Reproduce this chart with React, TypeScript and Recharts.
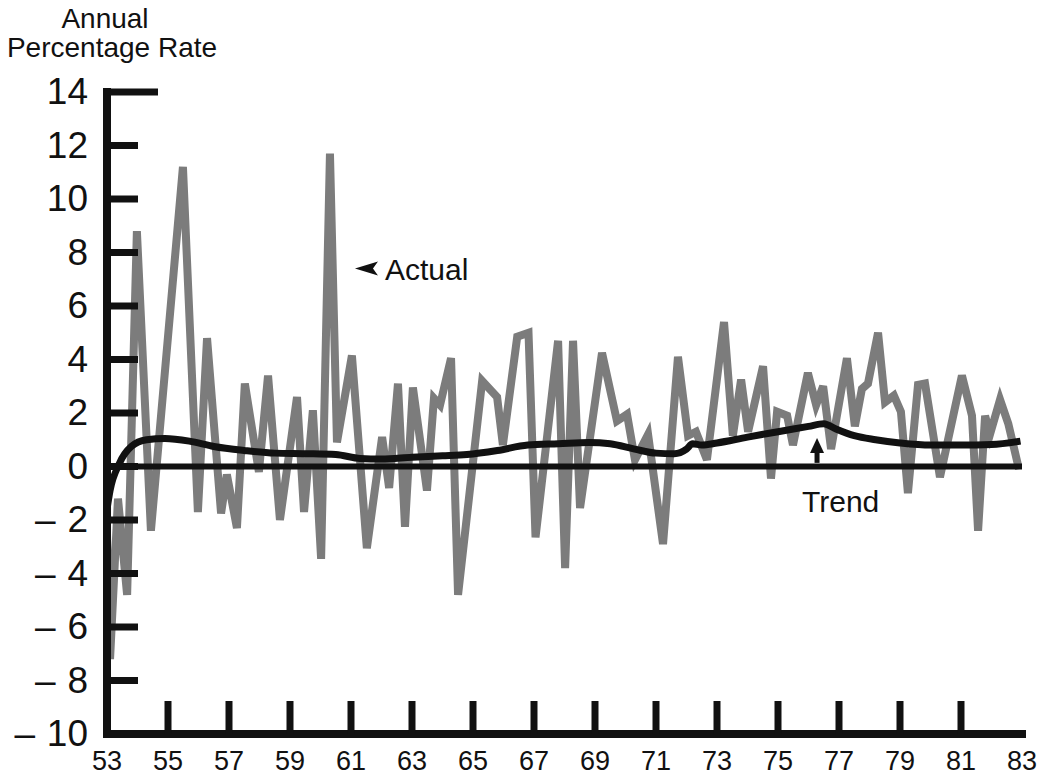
import React from "react";
import { LineChart, Line, XAxis, YAxis, ReferenceLine, ReferenceDot, Customized } from "recharts";

const actualYears = [
  53.0, 53.1, 53.36, 53.66, 53.98, 54.44, 55.49, 55.98, 56.28, 56.74, 56.93, 57.26, 57.52, 57.98,
  58.28, 58.67, 59.23, 59.46, 59.75, 60.02, 60.31, 60.54, 61.03, 61.52, 62.02, 62.25, 62.54, 62.77,
  63.03, 63.49, 63.72, 63.92, 64.28, 64.51, 65.3, 65.79, 65.98, 66.45, 66.82, 67.05, 67.79, 68.02,
  68.28, 68.51, 69.23, 69.72, 70.05, 70.31, 70.74, 71.23, 71.72, 72.05, 72.31, 72.67, 73.23, 73.52,
  73.79, 74.02, 74.51, 74.77, 74.97, 75.3, 75.49, 75.98, 76.25, 76.48, 76.74, 77.26, 77.52, 77.75,
  77.95, 78.28, 78.51, 78.8, 79.03, 79.26, 79.59, 79.82, 80.31, 81.03, 81.36, 81.56, 81.79, 81.95,
  82.28, 82.55, 82.9,
];
const actualValues = [
  -2.5, -7.2, -1.2, -4.8, 8.8, -2.4, 11.2, -1.7, 4.8, -1.75, -0.3, -2.3, 3.1, -0.2,
  3.4, -2.0, 2.6, -1.7, 2.1, -3.45, 11.7, 0.9, 4.15, -3.05, 1.1, -0.8, 3.1, -2.25,
  2.95, -0.9, 2.55, 2.3, 4.05, -4.8, 3.2, 2.6, 0.8, 4.85, 5.0, -2.65, 4.7, -3.8,
  4.7, -1.55, 4.25, 1.7, 1.95, 0.25, 1.2, -2.9, 4.1, 1.15, 1.3, 0.25, 5.4, 1.15,
  3.25, 1.3, 3.75, -0.45, 2.05, 1.9, 0.8, 3.5, 2.3, 3.0, 0.65, 4.05, 1.5, 2.9,
  3.1, 5.0, 2.4, 2.65, 2.05, -1.0, 3.05, 3.1, -0.4, 3.4, 1.9, -2.4, 1.9, 1.2,
  2.5, 1.6, -0.1,
];

// Trend
const trendYears = [
  53.0, 53.1, 53.4, 53.8, 54.3, 54.9, 55.7, 56.5, 57.5, 58.5, 59.5, 60.5, 61.3, 62.0,
  63.0, 64.0, 64.8, 65.8, 66.8, 67.8, 68.8, 69.5, 70.3, 71.0, 71.6, 72.0, 72.2, 72.5,
  73.0, 74.0, 75.0, 76.0, 76.5, 76.9, 77.5, 78.2, 79.0, 80.0, 81.0, 82.0, 82.95,
];
const trendValues = [
  -1.6, -0.9, 0.1, 0.75, 1.0, 1.05, 0.95, 0.75, 0.6, 0.5, 0.48, 0.45, 0.3, 0.28,
  0.35, 0.4, 0.45, 0.6, 0.8, 0.85, 0.9, 0.85, 0.65, 0.5, 0.48, 0.65, 0.85, 0.8,
  0.88, 1.1, 1.3, 1.5, 1.6, 1.4, 1.15, 1.0, 0.88, 0.8, 0.8, 0.82, 0.95,
];

const xTicks = [53, 55, 57, 59, 61, 63, 65, 67, 69, 71, 73, 75, 77, 79, 81, 83];
const yTicks = [-10, -8, -6, -4, -2, 0, 2, 4, 6, 8, 10, 12, 14];
const titleLines = ["Annual", "Percentage Rate"];

const actualData = actualYears.map((t, i) => ({ t, v: actualValues[i] }));
const trendData = trendYears.map((t, i) => ({ t, v: trendValues[i] }));

const FONT = "'Liberation Sans', Arial, Helvetica, sans-serif";
const INK = "#111";

const YTick = (props: any) => {
  const { x, y, payload } = props;
  const val = payload.value as number;
  const isTop = val === 14;
  const isBottom = val === -10;
  const abs = Math.abs(val);
  const digitsW = abs >= 10 ? 41 : 20.5;
  const labelRight = x - 19;
  return (
    <g>
      {!isBottom && (
        <line x1={x} x2={x + (isTop ? 51 : 31)} y1={y} y2={y} stroke={INK} strokeWidth={7} />
      )}
      <text x={labelRight} y={y + 12} textAnchor="end" fontSize={37} fontFamily={FONT} fill={INK}>
        {abs}
      </text>
      {val < 0 && (
        <text x={labelRight - digitsW - 12} y={y + 12} textAnchor="end" fontSize={37} fontFamily={FONT} fill={INK}>
          {"\u2013"}
        </text>
      )}
    </g>
  );
};

const XTick = (props: any) => {
  const { x, y, payload } = props;
  const val = payload.value as number;
  const inner = val > 53 && val < 83;
  return (
    <g>
      {inner && <line x1={x} x2={x} y1={y} y2={y - 33} stroke={INK} strokeWidth={7} />}
      <text x={x} y={y + 36} textAnchor="middle" fontSize={27} fontFamily={FONT} fill={INK}>
        {val}
      </text>
    </g>
  );
};

const ActualMarker = (props: any) => {
  const { cx, cy } = props;
  return (
    <g>
      <path d={`M${cx},${cy} L${cx + 23},${cy - 7} L${cx + 18},${cy} L${cx + 23},${cy + 7} Z`} fill={INK} />
      <text x={cx + 30} y={cy + 11} fontSize={30} fontFamily={FONT} fill={INK}>
        Actual
      </text>
    </g>
  );
};

const TrendMarker = (props: any) => {
  const { cx, cy } = props;
  return (
    <g>
      <path d={`M${cx},${cy} L${cx - 7},${cy + 15} L${cx + 7},${cy + 15} Z`} fill={INK} />
      <rect x={cx - 2.5} y={cy + 13} width={5} height={12} fill={INK} />
      <text x={cx - 15} y={cy + 74} fontSize={30} fontFamily={FONT} fill={INK}>
        Trend
      </text>
    </g>
  );
};

const Title = () => (
  <g>
    <text x={105} y={28} textAnchor="middle" fontSize={28} fontFamily={FONT} fill={INK}>
      {titleLines[0]}
    </text>
    <text x={112} y={57} textAnchor="middle" fontSize={28} fontFamily={FONT} fill={INK}>
      {titleLines[1]}
    </text>
  </g>
);

export default function App() {
  return (
    <div style={{ position: "absolute", left: 0, top: 0, background: "#fff" }}>
      <LineChart width={1047} height={775} margin={{ top: 92, right: 25, bottom: 0, left: 0 }}>
        <XAxis
          dataKey="t"
          type="number"
          domain={[53, 83]}
          ticks={xTicks}
          allowDataOverflow
          height={41}
          tickSize={0}
          tickMargin={0}
          tickLine={false}
          interval={0}
          axisLine={{ stroke: INK, strokeWidth: 8, strokeLinecap: "square" }}
          tick={<XTick />}
        />
        <YAxis
          type="number"
          domain={[-10, 14]}
          ticks={yTicks}
          allowDataOverflow
          width={107}
          tickSize={0}
          tickMargin={0}
          tickLine={false}
          interval={0}
          axisLine={{ stroke: INK, strokeWidth: 8, strokeLinecap: "square" }}
          tick={<YTick />}
        />
        <Line
          data={actualData}
          dataKey="v"
          type="linear"
          stroke="#7c7c7c"
          strokeWidth={8}
          dot={false}
          activeDot={false}
          isAnimationActive={false}
        />
        <ReferenceLine y={0} stroke={INK} strokeWidth={6} />
        <Line
          data={trendData}
          dataKey="v"
          type="monotone"
          stroke={INK}
          strokeWidth={7}
          dot={false}
          activeDot={false}
          isAnimationActive={false}
        />
        <ReferenceDot x={61.13} y={7.4} r={0} ifOverflow="visible" shape={<ActualMarker />} />
        <ReferenceDot x={76.28} y={1.07} r={0} ifOverflow="visible" shape={<TrendMarker />} />
        <Customized component={<Title />} />
      </LineChart>
    </div>
  );
}
